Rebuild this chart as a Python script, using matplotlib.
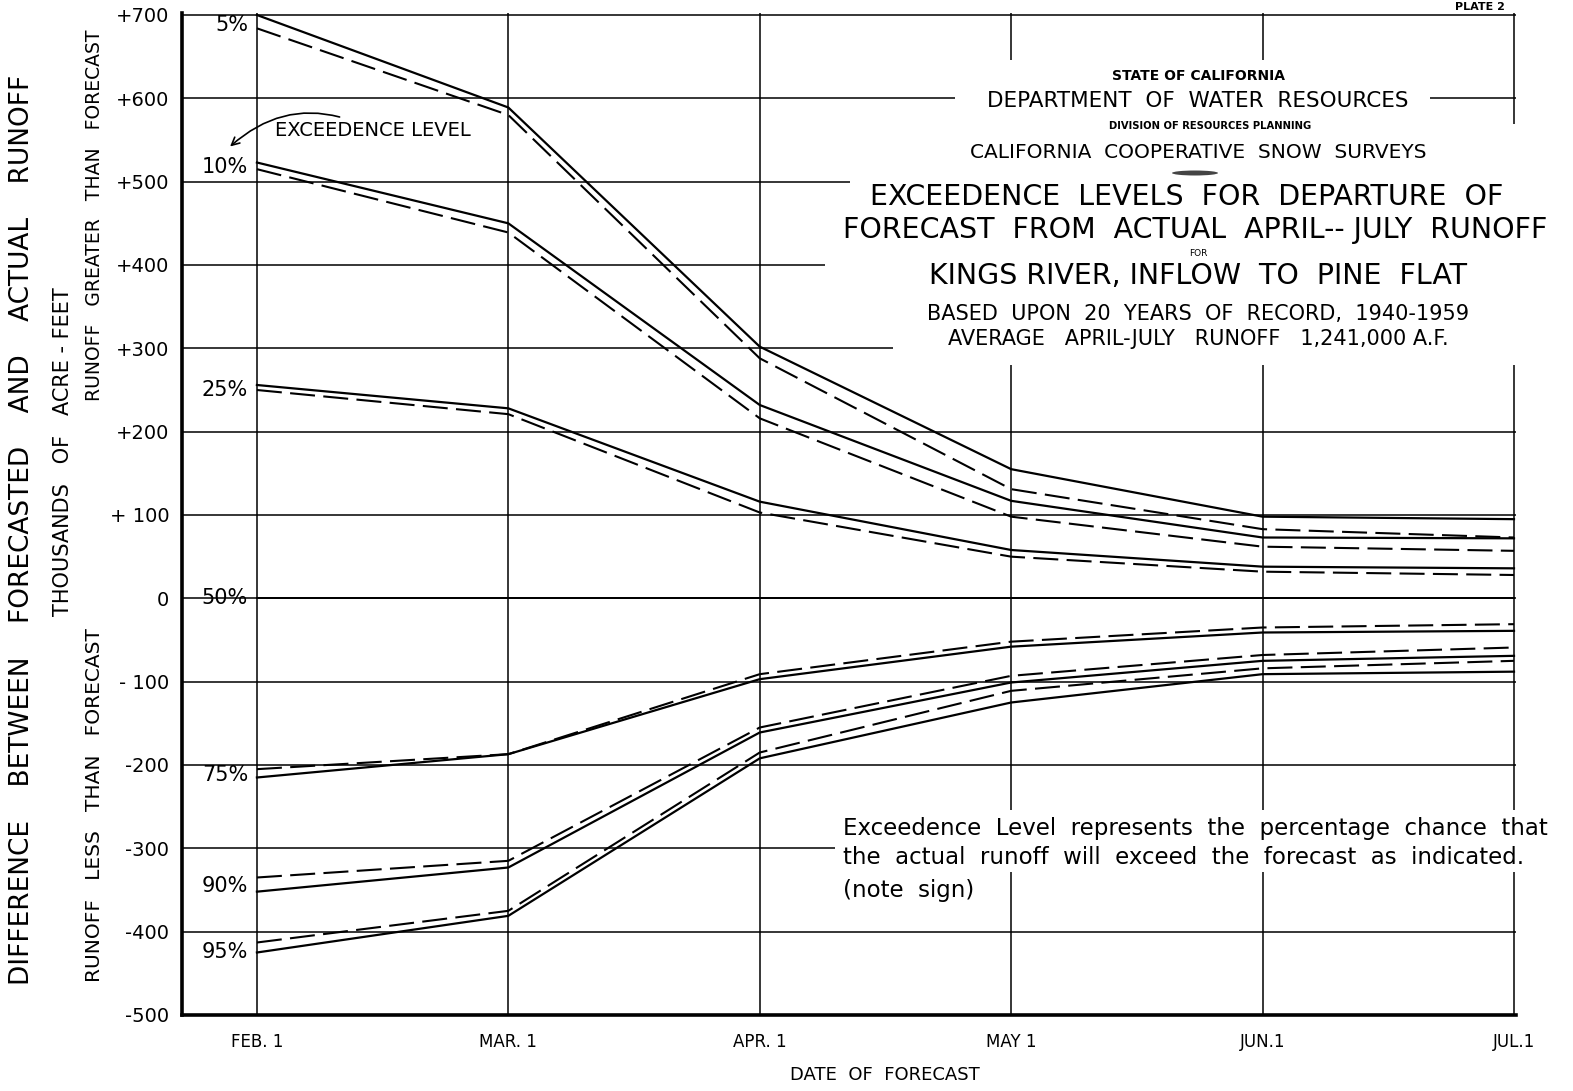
import matplotlib
matplotlib.use("Agg")
import matplotlib.pyplot as plt
from matplotlib.patches import Polygon, Rectangle, Ellipse
import numpy as np

W, H = 1573, 1091

# forecast dates
months = ['FEB. 1', 'MAR. 1', 'APR. 1', 'MAY 1', 'JUN.1', 'JUL.1']

# departure of forecast, thousands of acre-feet (solid / dashed curve per level)
levels = ['5%', '10%', '25%', '50%', '75%', '90%', '95%']
solid_5 = [700, 589, 302, 155, 98, 95]
dashed_5 = [684, 580, 288, 131, 83, 73]
solid_10 = [523, 450, 232, 117, 73, 72]
dashed_10 = [515, 439, 216, 98, 62, 57]
solid_25 = [256, 228, 116, 58, 38, 36]
dashed_25 = [250, 221, 103, 50, 32, 28]
solid_50 = [0, 0, 0, 0, 0, 0]
solid_75 = [-215, -187, -97, -58, -41, -39]
dashed_75 = [-205, -187, -91, -52, -35, -31]
solid_90 = [-352, -323, -161, -101, -75, -69]
dashed_90 = [-335, -315, -155, -93, -68, -59]
solid_95 = [-425, -381, -192, -125, -91, -88]
dashed_95 = [-413, -375, -185, -111, -84, -75]

label_y = [688, 518, 250, 0, -212, -345, -425]

ytick_vals = list(range(700, -501, -100))
ytick_labels = ['+700', '+600', '+500', '+400', '+300', '+200', '+ 100', '0',
                '- 100', '-200', '-300', '-400', '-500']


def fx(x):
    return x / W


def fy(y):
    return 1 - y / H


fig = plt.figure(figsize=(W / 100, H / 100), dpi=100)
fig.patch.set_facecolor('white')

# plot area: left spine x=182, Jul.1 at 1516, +700 at 13, -500 at 1015
ax = fig.add_axes([fx(182), fy(1015), (1516 - 182) / W, (1015 - 13) / H])
ax.set_xlim(-0.298, 5.008)
ax.set_ylim(-500, 702.4)

x = np.arange(len(months))

ax.set_axisbelow(True)
ax.set_xticks(x)
ax.set_xticklabels(months, fontsize=12)
ax.set_yticks(ytick_vals)
ax.set_yticklabels(ytick_labels, fontsize=14)
ax.tick_params(length=0, pad=9)
ax.tick_params(axis='x', pad=13)
ax.grid(True, color='black', lw=1.1)
for s in ['top', 'right']:
    ax.spines[s].set_visible(False)
for s in ['left', 'bottom']:
    ax.spines[s].set_linewidth(2.6)

dash = (0, (12, 4))
curves = [(solid_5, dashed_5), (solid_10, dashed_10), (solid_25, dashed_25),
          (solid_75, dashed_75), (solid_90, dashed_90), (solid_95, dashed_95)]
for s_vals, d_vals in curves:
    ax.plot(x, s_vals, color='black', lw=1.6, zorder=3)
    ax.plot(x, d_vals, color='black', lw=1.5, linestyle=dash, zorder=3)
ax.plot(x, solid_50, color='black', lw=1.4, zorder=3)

for lab, ly in zip(levels, label_y):
    ax.text(-0.035, ly, lab, ha='right', va='center', fontsize=15, clip_on=False)

# exceedence level pointer
ax.annotate('EXCEEDENCE LEVEL', xy=(-0.115, 540), xytext=(0.07, 562),
            fontsize=14, va='center', ha='left',
            arrowprops=dict(arrowstyle='->', color='black', lw=1.2,
                            connectionstyle='arc3,rad=0.35',
                            shrinkA=2, shrinkB=2))

# white blocks behind the title and the note (they break the grid)
pts = [(955, 60), (1430, 60), (1430, 124), (1575, 124), (1575, 365),
       (893, 365), (893, 300), (825, 300), (825, 225), (850, 225),
       (850, 124), (955, 124)]
title_box = Polygon([(fx(a), fy(b)) for a, b in pts], closed=True,
                    transform=fig.transFigure, facecolor='white',
                    edgecolor='none', zorder=1, clip_on=False)
ax.add_patch(title_box)
ax.add_patch(Rectangle((fx(835), fy(872)), fx(1575) - fx(835), fy(810) - fy(872),
                       transform=fig.transFigure, facecolor='white',
                       edgecolor='none', zorder=1, clip_on=False))
ax.add_patch(Rectangle((fx(835), fy(905)), fx(990) - fx(835), fy(872) - fy(905),
                       transform=fig.transFigure, facecolor='white',
                       edgecolor='none', zorder=1, clip_on=False))

# title block
cx = 1198
fig.text(fx(1480), fy(7), 'PLATE 2', fontsize=8, fontweight='bold', ha='center', va='center')
fig.text(fx(cx), fy(76), 'STATE OF CALIFORNIA', fontsize=10, fontweight='bold', ha='center', va='center')
fig.text(fx(cx), fy(101), 'DEPARTMENT  OF  WATER  RESOURCES', fontsize=15.5, ha='center', va='center')
fig.text(fx(1210), fy(126), 'DIVISION OF RESOURCES PLANNING', fontsize=7.2, fontweight='bold', ha='center', va='center')
fig.text(fx(cx), fy(153), 'CALIFORNIA  COOPERATIVE  SNOW  SURVEYS', fontsize=14.5, ha='center', va='center')
fig.patches.append(Ellipse((fx(1195), fy(173)), 46 / W, 5 / H, transform=fig.transFigure,
                           facecolor='#444444', edgecolor='none'))
fig.text(fx(1187), fy(197), 'EXCEEDENCE  LEVELS  FOR  DEPARTURE  OF', fontsize=20.5, ha='center', va='center')
fig.text(fx(1195), fy(230), 'FORECAST  FROM  ACTUAL  APRIL-- JULY  RUNOFF', fontsize=20.5, ha='center', va='center')
fig.text(fx(cx), fy(254), 'FOR', fontsize=6.5, ha='center', va='center')
fig.text(fx(cx), fy(276), 'KINGS RIVER, INFLOW  TO  PINE  FLAT', fontsize=20.5, ha='center', va='center')
fig.text(fx(cx), fy(314), 'BASED  UPON  20  YEARS  OF  RECORD,  1940-1959', fontsize=15, ha='center', va='center')
fig.text(fx(cx), fy(339), 'AVERAGE   APRIL-JULY   RUNOFF   1,241,000 A.F.', fontsize=15, ha='center', va='center')

# note
fig.text(fx(843), fy(828), 'Exceedence  Level  represents  the  percentage  chance  that',
         fontsize=16.5, ha='left', va='center')
fig.text(fx(843), fy(858), 'the  actual  runoff  will  exceed  the  forecast  as  indicated.',
         fontsize=16.5, ha='left', va='center')
fig.text(fx(843), fy(890), '(note  sign)', fontsize=16.5, ha='left', va='center')

# axis titles
fig.text(fx(885), fy(1075), 'DATE  OF  FORECAST', fontsize=13, ha='center', va='center')
fig.text(fx(22), fy(530), 'DIFFERENCE    BETWEEN    FORECASTED    AND    ACTUAL    RUNOFF',
         fontsize=19, rotation=90, ha='center', va='center')
fig.text(fx(63), fy(452), 'THOUSANDS   OF   ACRE - FEET', fontsize=15, rotation=90,
         ha='center', va='center')
fig.text(fx(95), fy(215), 'RUNOFF   GREATER   THAN   FORECAST', fontsize=13.5, rotation=90,
         ha='center', va='center')
fig.text(fx(95), fy(805), 'RUNOFF   LESS   THAN   FORECAST', fontsize=14.5, rotation=90,
         ha='center', va='center')

fig.savefig('out.png', dpi=100, facecolor='white')
